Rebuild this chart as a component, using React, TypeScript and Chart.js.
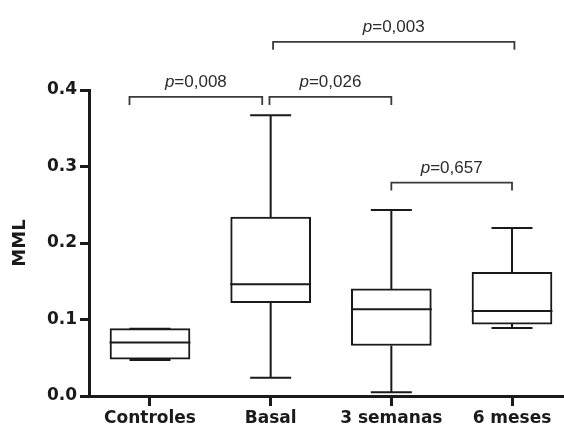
import { useEffect, useRef } from 'react';
import { Chart, registerables } from 'chart.js';

Chart.register(...registerables);

// ---- data ----
const categories = ['Controles', 'Basal', '3 semanas', '6 meses'];
const whiskerMin = [0.047, 0.024, 0.005, 0.089];
const q1 = [0.048, 0.122, 0.066, 0.094];
const median = [0.07, 0.146, 0.1135, 0.111];
const q3 = [0.088, 0.234, 0.14, 0.1615];
const whiskerMax = [0.088, 0.367, 0.243, 0.2195];

// significance brackets (x in category units, 1 = first category)
const bracketFrom = [0.83, 1.99, 2.02, 3.0];
const bracketTo = [1.93, 3.0, 4.02, 4.0];
const bracketLevel = [0.391, 0.391, 0.463, 0.279];
const pValues = ['0,008', '0,026', '0,003', '0,657'];

const yTicks = [0, 0.1, 0.2, 0.3, 0.4];

// ---- style constants ----
const X_MIN = 0.4945;
const X_MAX = 4.4226;
const CAP_HALF = 0.17;
const BOX_HALF = 0.335;
const BRACKET_DROP = 0.0105;
const INK = '#1a1a1a';
const BRACKET_INK = '#3a3a3a';

type P = { x: number; y: number | null };

function buildWhiskers(): P[] {
  const pts: P[] = [];
  categories.forEach((_, i) => {
    const c = i + 1;
    pts.push({ x: c, y: q3[i] }, { x: c, y: whiskerMax[i] }, { x: c, y: null });
    pts.push({ x: c - CAP_HALF, y: whiskerMax[i] }, { x: c + CAP_HALF, y: whiskerMax[i] }, { x: c, y: null });
    pts.push({ x: c, y: q1[i] }, { x: c, y: whiskerMin[i] }, { x: c, y: null });
    pts.push({ x: c - CAP_HALF, y: whiskerMin[i] }, { x: c + CAP_HALF, y: whiskerMin[i] }, { x: c, y: null });
  });
  return pts;
}

function buildMedians(): P[] {
  const pts: P[] = [];
  categories.forEach((_, i) => {
    const c = i + 1;
    pts.push({ x: c - BOX_HALF, y: median[i] }, { x: c + BOX_HALF, y: median[i] }, { x: c, y: null });
  });
  return pts;
}

function buildBrackets(): P[] {
  const pts: P[] = [];
  bracketFrom.forEach((f, i) => {
    const t = bracketTo[i];
    const l = bracketLevel[i];
    pts.push(
      { x: f, y: l - BRACKET_DROP },
      { x: f, y: l },
      { x: t, y: l },
      { x: t, y: l - BRACKET_DROP },
      { x: t, y: null }
    );
  });
  return pts;
}

const pLabelPlugin = {
  id: 'pLabels',
  afterDatasetsDraw(chart: any) {
    const { ctx, scales } = chart;
    const xs = scales.x;
    const ys = scales.y;
    ctx.save();
    ctx.fillStyle = '#2b2b2b';
    ctx.textBaseline = 'alphabetic';
    const italic = 'italic 17px "Liberation Sans", Arial, sans-serif';
    const normal = '17px "Liberation Sans", Arial, sans-serif';
    bracketFrom.forEach((f, i) => {
      const cx = xs.getPixelForValue((f + bracketTo[i]) / 2);
      const by = ys.getPixelForValue(bracketLevel[i]) - 10;
      ctx.font = italic;
      const w1 = ctx.measureText('p').width;
      ctx.font = normal;
      const rest = '=' + pValues[i];
      const w2 = ctx.measureText(rest).width;
      const x0 = cx - (w1 + w2) / 2;
      ctx.font = italic;
      ctx.fillText('p', x0, by);
      ctx.font = normal;
      ctx.fillText(rest, x0 + w1, by);
    });
    ctx.restore();
  },
};

export default function App() {
  const ref = useRef<HTMLCanvasElement | null>(null);

  useEffect(() => {
    document.body.style.margin = '0';
    const canvas = ref.current;
    if (!canvas) return;
    const tickFont = { family: '"DejaVu Sans", sans-serif', weight: 'bold' as const, size: 17 };
    const chart = new Chart(canvas, {
      type: 'bar',
      data: {
        datasets: [
          {
            type: 'line',
            label: 'median',
            data: buildMedians() as any,
            borderColor: INK,
            borderWidth: 2,
            pointRadius: 0,
            spanGaps: false,
            order: 0,
            clip: false as any,
          },
          {
            type: 'bar',
            label: 'box',
            data: categories.map((_, i) => ({ x: i + 1, y: [q1[i], q3[i]] })) as any,
            backgroundColor: '#ffffff',
            borderColor: INK,
            borderWidth: 2,
            borderSkipped: false,
            barThickness: 80,
            grouped: false,
            order: 1,
          } as any,
          {
            type: 'line',
            label: 'whiskers',
            data: buildWhiskers() as any,
            borderColor: INK,
            borderWidth: 2,
            pointRadius: 0,
            spanGaps: false,
            order: 2,
            clip: false as any,
          },
          {
            type: 'line',
            label: 'brackets',
            data: buildBrackets() as any,
            borderColor: BRACKET_INK,
            borderWidth: 1.8,
            pointRadius: 0,
            spanGaps: false,
            order: 3,
            clip: false as any,
          },
        ],
      },
      options: {
        responsive: false,
        animation: false,
        devicePixelRatio: 1,
        layout: { padding: { top: 90, right: 1, left: 0, bottom: 0 } },
        plugins: { legend: { display: false }, tooltip: { enabled: false } },
        scales: {
          x: {
            type: 'linear',
            min: X_MIN,
            max: X_MAX,
            offset: false,
            afterBuildTicks: (s: any) => {
              s.ticks = categories.map((_, i) => ({ value: i + 1 }));
            },
            afterFit: (s: any) => {
              s.height = 30;
            },
            ticks: {
              autoSkip: false,
              maxRotation: 0,
              minRotation: 0,
              padding: 2,
              color: INK,
              font: tickFont,
              callback: (_v: any, idx: number) => categories[idx],
            },
            grid: {
              offset: false,
              drawOnChartArea: false,
              drawTicks: true,
              tickLength: 10,
              lineWidth: 3,
              color: INK,
            },
            border: { display: true, width: 3, color: INK },
          },
          y: {
            type: 'linear',
            min: 0,
            max: 0.4,
            afterBuildTicks: (s: any) => {
              s.ticks = yTicks.map((v) => ({ value: v }));
            },
            afterFit: (s: any) => {
              s.width = 89;
            },
            ticks: {
              padding: 3,
              color: INK,
              font: tickFont,
              callback: (v: any) => Number(v).toFixed(1),
            },
            grid: {
              offset: false,
              drawOnChartArea: false,
              drawTicks: true,
              tickLength: 9,
              lineWidth: 3,
              color: INK,
            },
            border: { display: true, width: 3, color: INK },
            title: {
              display: true,
              text: 'MML',
              color: INK,
              font: { family: '"DejaVu Sans", sans-serif', weight: 'bold', size: 18 },
              padding: { top: 10, bottom: 0 },
            },
          },
        },
      },
      plugins: [pLabelPlugin],
    });
    return () => chart.destroy();
  }, []);

  return (
    <div style={{ width: 564, height: 426 }}>
      <canvas ref={ref} width={564} height={426} style={{ display: 'block' }} />
    </div>
  );
}
